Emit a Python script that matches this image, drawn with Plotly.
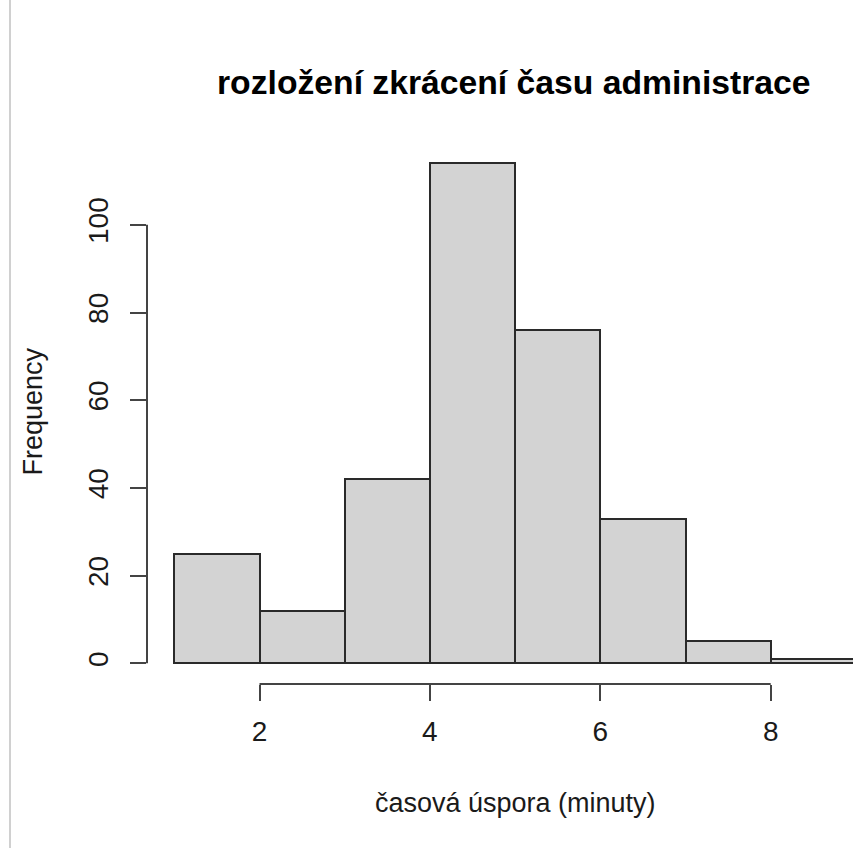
import plotly.graph_objects as go

# Histogram of time savings (minutes), R base-graphics style
bin_edges = [1, 2, 3, 4, 5, 6, 7, 8, 9]
counts = [25, 12, 42, 114, 76, 33, 5, 1]
x_ticks = [2, 4, 6, 8]
y_ticks = [0, 20, 40, 60, 80, 100]

title_text = "rozložení zkrácení času administrace"
x_label = "časová úspora (minuty)"
y_label = "Frequency"

centers = [(a + b) / 2 for a, b in zip(bin_edges[:-1], bin_edges[1:])]
widths = [b - a for a, b in zip(bin_edges[:-1], bin_edges[1:])]

FONT = "Liberation Sans, Arial, Helvetica, sans-serif"
AXIS_COLOR = "#444444"
TEXT_COLOR = "#1a1a1a"

W, H = 853, 848
L, R, T, B = 147, 0, 130, 164
plot_w = W - L - R
plot_h = H - T - B


def px_to_paper_x(px):
    return (px - L) / plot_w


def py_to_paper_y(py):
    return (H - B - py) / plot_h


fig = go.Figure()
fig.add_trace(go.Bar(
    x=centers,
    y=counts,
    width=widths,
    marker=dict(color="#d3d3d3", line=dict(color="#2a2a2a", width=2)),
    hoverinfo="x+y",
    showlegend=False,
))

# R-style axis lines only spanning the first to last tick
fig.add_shape(type="line", xref="x", yref="paper",
              x0=x_ticks[0], x1=x_ticks[-1], y0=0, y1=0,
              line=dict(color=AXIS_COLOR, width=2))
fig.add_shape(type="line", xref="paper", yref="y",
              x0=0, x1=0, y0=y_ticks[0], y1=y_ticks[-1],
              line=dict(color=AXIS_COLOR, width=2))

# thin panel border on the left side
fig.add_shape(type="line", xref="paper", yref="paper",
              x0=px_to_paper_x(10), x1=px_to_paper_x(10),
              y0=py_to_paper_y(H), y1=py_to_paper_y(0),
              line=dict(color="#d0d0d0", width=2))

fig.add_annotation(text="<b>" + title_text + "</b>", xref="paper", yref="paper",
                   x=px_to_paper_x(514), y=py_to_paper_y(82),
                   xanchor="center", yanchor="middle", showarrow=False,
                   font=dict(family=FONT, size=33.7, color="#000000"))
fig.add_annotation(text=x_label, xref="paper", yref="paper",
                   x=px_to_paper_x(515), y=py_to_paper_y(803),
                   xanchor="center", yanchor="middle", showarrow=False,
                   font=dict(family=FONT, size=27, color=TEXT_COLOR))
fig.add_annotation(text=y_label, xref="paper", yref="paper",
                   x=px_to_paper_x(32.5), y=py_to_paper_y(412),
                   xanchor="center", yanchor="middle", showarrow=False,
                   textangle=-90,
                   font=dict(family=FONT, size=27, color=TEXT_COLOR))

# data ranges chosen so that 1 unit on x ~ 85.2 px and 1 count ~ 4.385 px
x_px_per_unit = 85.2
y_px_per_unit = 4.385
x2_px = 259.5
y0_px = 663.3
x_min = x_ticks[0] - (x2_px - L) / x_px_per_unit
x_max = x_ticks[0] + (W - R - x2_px) / x_px_per_unit
y_min = (y0_px - (H - B)) / y_px_per_unit
y_max = (y0_px - T) / y_px_per_unit

fig.update_layout(
    width=W, height=H,
    margin=dict(l=L, r=R, t=T, b=B, pad=0),
    paper_bgcolor="white", plot_bgcolor="white",
    bargap=0,
    font=dict(family=FONT, color=TEXT_COLOR),
    xaxis=dict(range=[x_min, x_max], tickvals=x_ticks, ticktext=[str(v) for v in x_ticks],
               showgrid=False, zeroline=False, showline=False,
               ticks="outside", ticklen=16, tickwidth=2, tickcolor=AXIS_COLOR,
               tickfont=dict(family=FONT, size=28, color=TEXT_COLOR),
               ticklabelstandoff=6, fixedrange=True),
    yaxis=dict(range=[y_min, y_max], tickvals=y_ticks, ticktext=[str(v) for v in y_ticks],
               showgrid=False, zeroline=False, showline=False,
               ticks="outside", ticklen=16, tickwidth=2, tickcolor=AXIS_COLOR,
               tickangle=-90,
               tickfont=dict(family=FONT, size=28, color=TEXT_COLOR),
               ticklabelstandoff=11, fixedrange=True),
)

fig.write_html("out.html")
